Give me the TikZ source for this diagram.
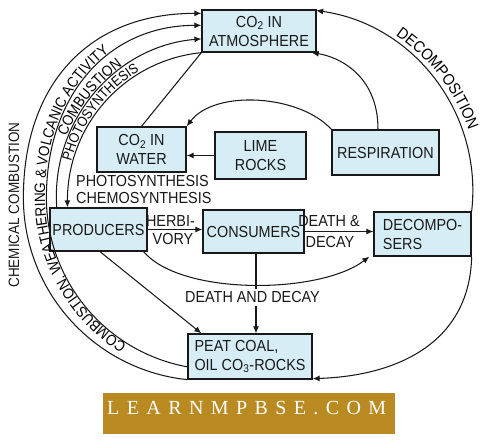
\documentclass[tikz,border=0pt]{standalone}
\usepackage{fontspec}
\setmainfont{Liberation Sans}
\newfontfamily\dfont[FakeStretch=0.9]{Liberation Sans}
\newfontfamily\wmfont[LetterSpace=37]{Liberation Serif}
\usetikzlibrary{arrows.meta,decorations.text,calc}
\definecolor{boxfill}{RGB}{214,237,246}
\definecolor{ink}{RGB}{25,25,25}
\definecolor{gold}{RGB}{186,138,34}
\newcommand\dF{\dfont\fontsize{16}{19}\selectfont}
\newcommand\cF{\dfont\fontsize{15}{18}\selectfont}
\newcommand\sF{\dfont\fontsize{14}{17}\selectfont}
\begin{document}
\begin{tikzpicture}[x=1pt,y=1pt,
  box/.style={draw=ink, line width=1.3pt, fill=boxfill, inner sep=0pt, align=center, font=\dF, text=ink},
  conn/.style={draw=ink, line width=1.05pt},
  arr/.style={conn, -{Latex[length=7pt,width=6pt]}},
  lbl/.style={font=\dF, inner sep=0pt, text=ink},
]
\useasboundingbox (0,0) rectangle (497,439);
\fill[white] (0,0) rectangle (497,439);

% boxes
\node[box, minimum width=114pt, minimum height=42pt] (atm) at (259,408) {CO\textsubscript{2} IN\\ATMOSPHERE};
\node[box, minimum width=89pt, minimum height=45pt] (water) at (141.5,289.5) {CO\textsubscript{2} IN\\WATER};
\node[box, minimum width=91pt, minimum height=47pt] (lime) at (260.5,283.5) {LIME\\ROCKS};
\node[box, minimum width=107pt, minimum height=45pt] (resp) at (385.5,286.5) {RESPIRATION};
\node[box, minimum width=97pt, minimum height=43pt] (prod) at (98.5,209.5) {PRODUCERS};
\node[box, minimum width=101pt, minimum height=43pt] (cons) at (253.5,207.5) {CONSUMERS};
\node[box, minimum width=97pt, minimum height=44pt, align=left] (deco) at (422.5,205) {DECOMPO-\\SERS};
\node[box, minimum width=124pt, minimum height=45pt, align=left] (peat) at (250,82.5) {PEAT COAL,\\OIL CO\textsubscript{3}-ROCKS};

% arc centres
\coordinate (C2) at (219,242);
\coordinate (C3) at (215,242);
\coordinate (C4) at (216.7,239);
\coordinate (CR) at (290,247);

% left arcs
\draw[arr] ([xshift=-0.1pt]peat.south west) arc[start angle=264, end angle=180, radius=183pt]
  .. controls +(0,113) and +(-113,0) .. ([yshift=-4pt]atm.north west);
\draw[arr] ([yshift=12.8pt]peat.south west) arc[start angle=259.6, end angle=180, radius=172pt]
  .. controls +(0,103) and +(-93,0) .. ([yshift=-16pt]atm.north west);
\draw[arr] ([xshift=7.4pt]prod.north west) arc[start angle=184, end angle=94.7, radius=158pt];
\draw[arr] (atm.south west) arc[start angle=95.7, end angle=180, radius=148.7pt] -- ([xshift=18pt]prod.north west);

% curved labels on the left
\path[decorate, decoration={text along path,
  text={|\cF|COMBUSTION, WEATHERING {\&} VOLCANIC ACTIVITY}}]
  ($(C2)+(238:174pt)$) arc[start angle=238, end angle=180, radius=174pt]
  .. controls +(0,104) and +(-95,0) .. ([xshift=2pt,yshift=-14pt]atm.north west);
\path[decorate, decoration={text along path, text align=center,
  text={|\cF|COMBUSTION}}]
  ($(C3)+(160:160.5pt)$) arc[start angle=160, end angle=123, radius=160.5pt];
\path[decorate, decoration={text along path, text align=center,
  text={|\sF|PHOTOSYNTHESIS}}]
  ($(C4)+(168:150.5pt)$) arc[start angle=168, end angle=118, radius=150.5pt];

\node[lbl, font=\cF, rotate=90] (chem) at (14,234) {CHEMICAL COMBUSTION};

% right arcs
\draw[arr] (deco.north east) arc[start angle=-6.5, end angle=82, radius=182pt];
\path[decorate, decoration={text along path, text align=center,
  text={|\dF|DECOMPOSITION}}]
  ($(CR)+(56:189pt)$) arc[start angle=56, end angle=19, radius=189pt];
\draw[arr] (deco.south east) .. controls +(-2,-84) and +(88,3) .. ([yshift=1pt]peat.south east);

% respiration
\draw[arr] ([xshift=-7.5pt]resp.north) .. controls +(0,55) and +(26,-4) .. ([xshift=-5pt]atm.south east);
\draw[arr] (resp.north west) .. controls +(-32,35) and +(28,37) .. (water.north east);

% lime rocks, water
\draw[arr] (lime.west) -- (lime.west -| water.east);
\draw[conn] (water.north) -- (atm.south west);

\node[lbl, anchor=base west] (ph) at (76,252) {PHOTOSYNTHESIS};
\node[lbl, anchor=base west] (ch) at (76,235) {CHEMOSYNTHESIS};

% producers -> consumers -> decomposers
\draw[arr] (prod.east) -- (prod.east -| cons.west);
\node[lbl, anchor=base] (herb) at (170.5,212) {HERBI-};
\node[lbl, anchor=base] (vory) at (173,194) {VORY};
\draw[arr] (cons.east) -- (cons.east -| deco.west);
\node[lbl, anchor=base] (dd1) at (329,212) {DEATH \&};
\node[lbl, anchor=base] (dd2) at (330,191) {DECAY};

\draw[arr] ([xshift=-4pt]prod.south east) .. controls +(37,-44) and +(-50,-38) .. ([xshift=-4pt]deco.south west);
\draw[arr] ([xshift=2.5pt]cons.south) -- node[pos=0.55, lbl, fill=white, inner sep=3pt, xshift=-3.5pt] {DEATH AND DECAY} ([xshift=6pt]peat.north);
\draw[arr] ([xshift=1.5pt]prod.south) -- ([xshift=14pt]peat.north west);

% watermark
\fill[gold] (103,5) rectangle (395,46);
\node[text=white, inner sep=0pt, anchor=base west, font=\wmfont\fontsize{20}{22}\selectfont] (wm) at (107,25) {LEARNMPBSE.COM};
\end{tikzpicture}
\end{document}
